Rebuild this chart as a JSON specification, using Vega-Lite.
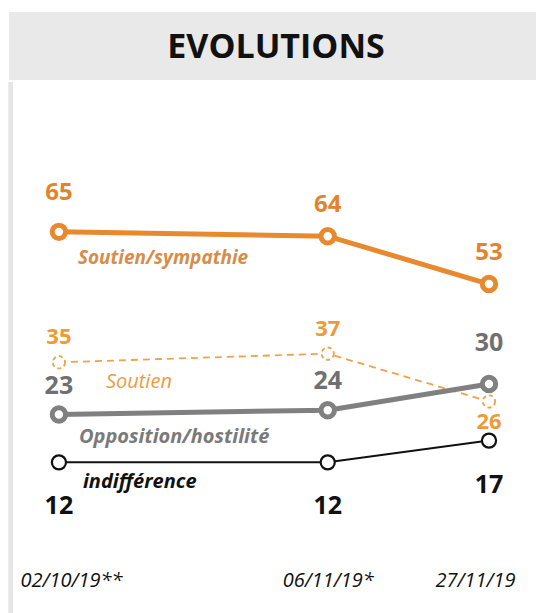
{
  "$schema": "https://vega.github.io/schema/vega-lite/v6.json",
  "padding": {"left": 8, "top": 12, "right": 0, "bottom": 0},
  "background": "white",
  "spacing": 0,
  "config": {"font": "Open Sans", "view": {"stroke": null}},
  "datasets": {
    "series": [
      {"date": "2019-10-02", "series": "Soutien/sympathie", "value": 65},
      {"date": "2019-11-06", "series": "Soutien/sympathie", "value": 64},
      {"date": "2019-11-27", "series": "Soutien/sympathie", "value": 53},
      {"date": "2019-10-02", "series": "Soutien", "value": 35},
      {"date": "2019-11-06", "series": "Soutien", "value": 37},
      {"date": "2019-11-27", "series": "Soutien", "value": 26},
      {"date": "2019-10-02", "series": "Opposition/hostilité", "value": 23},
      {"date": "2019-11-06", "series": "Opposition/hostilité", "value": 24},
      {"date": "2019-11-27", "series": "Opposition/hostilité", "value": 30},
      {"date": "2019-10-02", "series": "indifférence", "value": 12},
      {"date": "2019-11-06", "series": "indifférence", "value": 12},
      {"date": "2019-11-27", "series": "indifférence", "value": 17}
    ],
    "heading": [{"title": "EVOLUTIONS"}]
  },
  "vconcat": [
    {
      "width": 528,
      "height": 68,
      "view": {"fill": "#e9e9e9", "stroke": null},
      "data": {"name": "heading"},
      "mark": {"type": "text", "font": "Open Sans", "fontWeight": "bold", "fontSize": 34, "color": "#111111", "align": "center", "baseline": "middle", "dx": 3, "dy": 2},
      "encoding": {"text": {"field": "title"}}
    },
    {
      "width": 528,
      "height": 533,
      "data": {"name": "series"},
      "encoding": {
        "x": {
          "field": "date",
          "type": "temporal",
          "scale": {"type": "utc", "domain": [
            {"year": 2019, "month": 9, "date": 25, "hours": 12, "utc": true},
            {"year": 2019, "month": 12, "date": 3, "hours": 6, "utc": true}
          ]},
          "axis": {
            "values": [
              {"year": 2019, "month": 10, "date": 2, "utc": true},
              {"year": 2019, "month": 11, "date": 6, "utc": true},
              {"year": 2019, "month": 11, "date": 27, "utc": true}
            ],
            "labelExpr": "utcFormat(datum.value, '%d/%m/%y') + (utcmonth(datum.value) == 9 ? '**' : (utcdate(datum.value) == 6 ? '*' : ''))",
            "domain": false,
            "ticks": false,
            "grid": false,
            "title": null,
            "offset": -54,
            "labelFont": "Open Sans",
            "labelFontStyle": "italic",
            "labelFontSize": 20,
            "labelColor": "#111111",
            "labelPadding": 9,
            "labelFlush": false,
            "labelOverlap": false,
            "labelBound": false,
            "labelOffset": {"condition": [
              {"test": "utcmonth(datum.value) == 9", "value": 12},
              {"test": "utcdate(datum.value) == 27", "value": -14}
            ], "value": 0}
          }
        },
        "y": {
          "field": "value",
          "type": "quantitative",
          "scale": {"domain": [-23.1, 99.46], "nice": false, "zero": false},
          "axis": null
        }
      },
      "layer": [
        {
          "mark": {"type": "rule", "color": "#e6e6e6", "strokeWidth": 4},
          "encoding": {"x": {"datum": {"year": 2019, "month": 9, "date": 25, "hours": 18, "utc": true}, "type": "temporal"}, "y": null}
        },
        {
          "transform": [{"filter": "datum.series == 'Soutien'"}],
          "mark": {"type": "line", "color": "#EFA24A", "strokeWidth": 1.8, "strokeDash": [7, 5]}
        },
        {
          "transform": [{"filter": "datum.series == 'Soutien'"}],
          "mark": {"type": "point", "shape": "circle", "filled": true, "fill": "white", "stroke": "#EFA24A", "strokeWidth": 1.8, "strokeDash": [4, 3], "size": 150, "opacity": 1}
        },
        {
          "transform": [{"filter": "datum.series == 'indifférence'"}],
          "mark": {"type": "line", "color": "#111111", "strokeWidth": 2}
        },
        {
          "transform": [{"filter": "datum.series == 'indifférence'"}],
          "mark": {"type": "point", "shape": "circle", "filled": true, "fill": "white", "stroke": "#111111", "strokeWidth": 2.2, "size": 200, "opacity": 1}
        },
        {
          "transform": [{"filter": "datum.series == 'Opposition/hostilité'"}],
          "mark": {"type": "line", "color": "#808080", "strokeWidth": 5}
        },
        {
          "transform": [{"filter": "datum.series == 'Opposition/hostilité'"}],
          "mark": {"type": "point", "shape": "circle", "filled": true, "fill": "white", "stroke": "#808080", "strokeWidth": 5, "size": 180, "opacity": 1}
        },
        {
          "transform": [{"filter": "datum.series == 'Soutien/sympathie'"}],
          "mark": {"type": "line", "color": "#E8892E", "strokeWidth": 5}
        },
        {
          "transform": [{"filter": "datum.series == 'Soutien/sympathie'"}],
          "mark": {"type": "point", "shape": "circle", "filled": true, "fill": "white", "stroke": "#E8892E", "strokeWidth": 5, "size": 180, "opacity": 1}
        },
        {
          "transform": [{"filter": "datum.series == 'Soutien/sympathie' && time(datum.date) == time('2019-10-02')"}],
          "mark": {"type": "text", "font": "Open Sans", "fontWeight": "bold", "fontSize": 24, "color": "#E3842C", "baseline": "middle", "dy": -39},
          "encoding": {"text": {"field": "value"}}
        },
        {
          "transform": [{"filter": "datum.series == 'Soutien/sympathie' && time(datum.date) != time('2019-10-02')"}],
          "mark": {"type": "text", "font": "Open Sans", "fontWeight": "bold", "fontSize": 24, "color": "#E3842C", "baseline": "middle", "dy": -31},
          "encoding": {"text": {"field": "value"}}
        },
        {
          "transform": [{"filter": "datum.series == 'Soutien' && time(datum.date) != time('2019-11-27')"}],
          "mark": {"type": "text", "font": "Open Sans", "fontWeight": "bold", "fontSize": 22, "color": "#EE9A3A", "baseline": "middle", "dy": -25},
          "encoding": {"text": {"field": "value"}}
        },
        {
          "transform": [{"filter": "datum.series == 'Soutien' && time(datum.date) == time('2019-11-27')"}],
          "mark": {"type": "text", "font": "Open Sans", "fontWeight": "bold", "fontSize": 22, "color": "#EE9A3A", "baseline": "middle", "dy": 21},
          "encoding": {"text": {"field": "value"}}
        },
        {
          "transform": [{"filter": "datum.series == 'Opposition/hostilité' && time(datum.date) != time('2019-11-27')"}],
          "mark": {"type": "text", "font": "Open Sans", "fontWeight": "bold", "fontSize": 25, "color": "#707070", "baseline": "middle", "dy": -29},
          "encoding": {"text": {"field": "value"}}
        },
        {
          "transform": [{"filter": "datum.series == 'Opposition/hostilité' && time(datum.date) == time('2019-11-27')"}],
          "mark": {"type": "text", "font": "Open Sans", "fontWeight": "bold", "fontSize": 25, "color": "#707070", "baseline": "middle", "dy": -41},
          "encoding": {"text": {"field": "value"}}
        },
        {
          "transform": [{"filter": "datum.series == 'indifférence'"}],
          "mark": {"type": "text", "font": "Open Sans", "fontWeight": "bold", "fontSize": 25, "color": "#111111", "baseline": "middle", "dy": 44},
          "encoding": {"text": {"field": "value"}}
        },
        {
          "transform": [{"filter": "datum.series == 'Soutien/sympathie' && time(datum.date) == time('2019-10-02')"}],
          "mark": {"type": "text", "font": "Open Sans", "fontWeight": "bold", "fontStyle": "italic", "fontSize": 19, "color": "#D88C48", "align": "left", "baseline": "middle", "dx": 19, "dy": 26},
          "encoding": {"text": {"field": "series"}}
        },
        {
          "transform": [{"filter": "datum.series == 'Soutien' && time(datum.date) == time('2019-10-02')"}],
          "mark": {"type": "text", "font": "Open Sans", "fontStyle": "italic", "fontSize": 20, "color": "#EE9B3E", "align": "left", "baseline": "middle", "dx": 47, "dy": 20},
          "encoding": {"text": {"field": "series"}}
        },
        {
          "transform": [{"filter": "datum.series == 'Opposition/hostilité' && time(datum.date) == time('2019-10-02')"}],
          "mark": {"type": "text", "font": "Open Sans", "fontWeight": "bold", "fontStyle": "italic", "fontSize": 20, "color": "#7A7A7A", "align": "left", "baseline": "middle", "dx": 20, "dy": 22},
          "encoding": {"text": {"field": "series"}}
        },
        {
          "transform": [{"filter": "datum.series == 'indifférence' && time(datum.date) == time('2019-10-02')"}],
          "mark": {"type": "text", "font": "Open Sans", "fontWeight": "bold", "fontStyle": "italic", "fontSize": 20, "color": "#111111", "align": "left", "baseline": "middle", "dx": 24, "dy": 20},
          "encoding": {"text": {"field": "series"}}
        }
      ]
    }
  ]
}
